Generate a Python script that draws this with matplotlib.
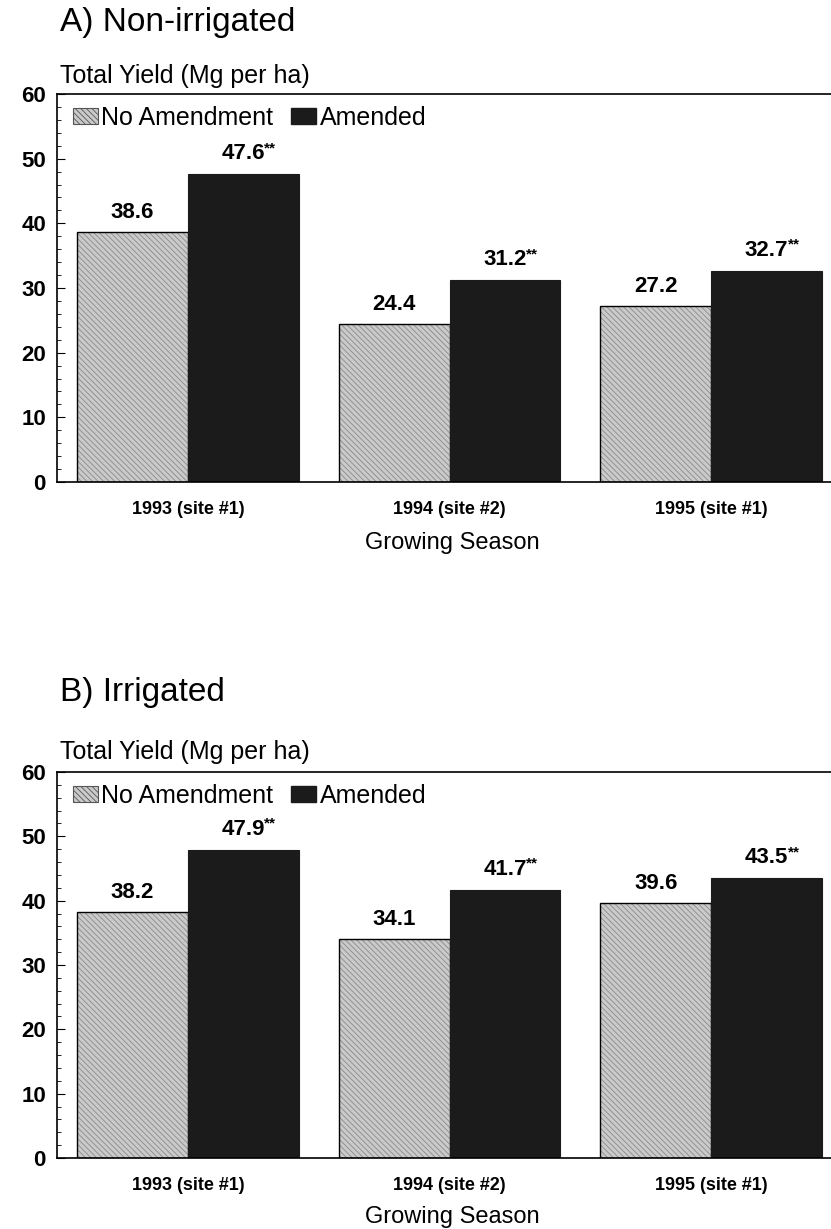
import numpy as np
import matplotlib.pyplot as plt
from matplotlib.patches import Patch
from matplotlib.ticker import MultipleLocator

plt.rcParams['font.family'] = ['Liberation Sans', 'DejaVu Sans']
plt.rcParams['hatch.linewidth'] = 0.6

# datos
seasons = ['1993 (site #1)', '1994 (site #2)', '1995 (site #1)']
nonirr_none = [38.6, 24.4, 27.2]
nonirr_amended = [47.6, 31.2, 32.7]
irr_none = [38.2, 34.1, 39.6]
irr_amended = [47.9, 41.7, 43.5]
signif = ['**', '**', '**']

W, H = 831, 1229
LIGHT = '#cacaca'
HATCH_C = '#8a8a8a'
DARK = '#1b1b1b'
HATCH = '\\\\\\\\\\\\'

fig = plt.figure(figsize=(W / 100, H / 100), dpi=100)


def px(x, y):
    return x / W, 1 - y / H


def draw_panel(top, bottom, title, title_y, ylab_y, xlab_y, none_vals, amended_vals):
    left, right = 57, 842
    ax = fig.add_axes([left / W, 1 - bottom / H, (right - left) / W, (bottom - top) / H])
    x = np.arange(len(seasons))
    w = 0.424

    # barras sin enmienda: relleno gris con rayado, luego contorno negro
    ax.bar(x - w / 2, none_vals, w, color=LIGHT, edgecolor=HATCH_C, hatch=HATCH, linewidth=0)
    ax.bar(x - w / 2, none_vals, w, fill=False, edgecolor='black', linewidth=1.0)
    ax.bar(x + w / 2, amended_vals, w, color=DARK, edgecolor=DARK, linewidth=0.8)

    ax.set_xlim(-0.5, 2.5)
    ax.set_ylim(0, 60)
    ax.yaxis.set_major_locator(MultipleLocator(10))
    ax.yaxis.set_minor_locator(MultipleLocator(2))
    ax.tick_params(axis='y', which='major', direction='in', length=6, width=0.8,
                   labelsize=16, pad=8)
    ax.tick_params(axis='y', which='minor', direction='in', length=3, width=0.6)
    for lab in ax.get_yticklabels():
        lab.set_fontweight('bold')
    ax.set_xticks(x)
    ax.set_xticklabels(seasons, fontweight='bold', fontsize=13)
    ax.tick_params(axis='x', length=0, pad=14)
    for s in ['left', 'bottom', 'top']:
        ax.spines[s].set_linewidth(1.2)

    # etiquetas de valor
    for xi, v in zip(x, none_vals):
        ax.annotate(f'{v:.1f}', (xi - w / 2, v), xytext=(0, 9), textcoords='offset pixels',
                    ha='center', va='bottom', fontsize=16, fontweight='bold')
    for xi, v, s in zip(x, amended_vals, signif):
        ax.annotate(f'{v:.1f}', (xi + w / 2, v), xytext=(0, 10), textcoords='offset pixels',
                    ha='center', va='bottom', fontsize=16, fontweight='bold')
        ax.annotate(s, (xi + w / 2, v), xytext=(21, 26), textcoords='offset pixels',
                    ha='left', va='center', fontsize=11, fontweight='bold')

    handles = [Patch(facecolor=LIGHT, edgecolor='#555555', hatch=HATCH, linewidth=0.8),
               Patch(facecolor=DARK, edgecolor=DARK)]
    ax.legend(handles, ['No Amendment', 'Amended'], loc='center left',
              bbox_to_anchor=(0.02, 0.938), ncol=2, frameon=False, fontsize=18,
              handlelength=1.0, handleheight=0.6, handletextpad=0.15,
              columnspacing=0.7, borderpad=0, borderaxespad=0)

    fig.text(*px(60, title_y), title, fontsize=24, ha='left', va='center')
    fig.text(*px(60, ylab_y), 'Total Yield (Mg per ha)', fontsize=18, ha='left', va='center')
    fig.text(*px(452, xlab_y), 'Growing Season', fontsize=17, ha='center', va='center')
    return ax


draw_panel(94, 482, 'A) Non-irrigated', 23, 76, 543, nonirr_none, nonirr_amended)
draw_panel(772, 1158, 'B) Irrigated', 693, 752, 1217, irr_none, irr_amended)

fig.savefig('out.png', dpi=100)
